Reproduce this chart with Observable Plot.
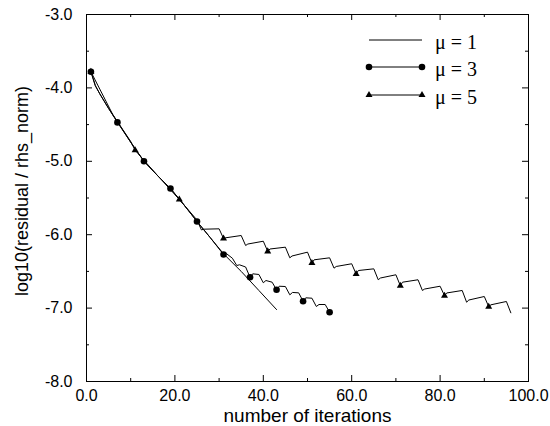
<!DOCTYPE html>
<html><head><meta charset="utf-8">
<script src="https://cdn.jsdelivr.net/npm/d3@7"></script>
<script src="https://cdn.jsdelivr.net/npm/@observablehq/plot@0.6"></script>
<style>
body{margin:0;background:#fff}
#wrap{position:relative;width:550px;height:426px}
#legend{position:absolute;left:0;top:0;pointer-events:none}
</style>
</head><body><div id="wrap"></div>
<script>
// ---- data ----
const mu1Iter = [1,2,3,4,5,7,10,13,16,19,22,25,28,31,35,39,43];
const mu1Val  = [-3.78,-3.97,-4.08,-4.18,-4.28,-4.46,-4.74,-5.00,-5.19,-5.37,-5.59,-5.82,-6.04,-6.26,-6.50,-6.76,-7.02];

const mu3Iter = [1,2,3,4,5,7,10,13,16,19,22,25,28,31,31.6,33,34,34.6,36,37,37.6,39,40,40.6,42,43,43.6,45,46,46.6,48,49,49.6,51,52,52.6,54,55];
const mu3Val  = [-3.78,-3.97,-4.08,-4.18,-4.28,-4.47,-4.74,-5.00,-5.19,-5.37,-5.59,-5.82,-6.04,-6.27,-6.255,-6.32,-6.42,-6.41,-6.44,-6.58,-6.533,-6.542,-6.655,-6.624,-6.647,-6.751,-6.702,-6.706,-6.819,-6.787,-6.792,-6.906,-6.860,-6.865,-6.978,-6.951,-6.951,-7.056];
const mu3Markers = [1,7,13,19,25,31,37,43,49,55];

const mu5Iter = [1,6,10,11,16,21,25,26,26.5,30,31,31.5,35,36,36.5,40,41,41.5,45,46,46.5,50,51,51.5,55,56,56.5,60,61,61.5,65,66,66.5,70,71,71.5,75,76,76.5,80,81,81.5,85,86,86.5,90,91,91.5,95,96];
const mu5Val  = [-3.78,-4.37,-4.73,-4.85,-5.19,-5.52,-5.80,-5.935,-5.925,-5.92,-6.052,-6.042,-6.011,-6.147,-6.127,-6.089,-6.227,-6.195,-6.170,-6.315,-6.290,-6.238,-6.386,-6.342,-6.315,-6.456,-6.433,-6.396,-6.536,-6.488,-6.465,-6.614,-6.590,-6.546,-6.695,-6.647,-6.614,-6.760,-6.740,-6.702,-6.831,-6.794,-6.760,-6.920,-6.890,-6.842,-6.981,-6.955,-6.910,-7.064];
const mu5Markers = [1,11,21,31,41,51,61,71,81,91];

const xMajor = [0,20,40,60,80,100];
const xMinor = [10,30,50,70,90];
const yMajor = [-3,-4,-5,-6,-7,-8];
const yMinor = [-3.5,-4.5,-5.5,-6.5,-7.5];

const legendLabels = ["\u03bc = 1","\u03bc = 3","\u03bc = 5"];
const xLabel = "number of iterations";
const yLabel = "log10(residual / rhs_norm)";

// ---- build ----
const toRows = (xs, ys) => xs.map((x,i) => ({x, y: ys[i]}));
const mu1 = toRows(mu1Iter, mu1Val);
const mu3 = toRows(mu3Iter, mu3Val);
const mu5 = toRows(mu5Iter, mu5Val);

const W = 550, H = 426, mL = 86, mR = 22, mT = 14, mB = 45;
const fw = W - mL - mR, fh = H - mT - mB;
const font = "'Liberation Sans', Arial, Helvetica, sans-serif";

const chart = Plot.plot({
  width: W, height: H,
  marginLeft: mL, marginRight: mR, marginTop: mT, marginBottom: mB,
  style: {fontFamily: font, color: "black", background: "white"},
  x: {domain: [0, 100]},
  y: {domain: [-8, -3]},
  marks: [
    // inward ticks on all four sides
    Plot.tickX(xMajor, {x: d => d, insetTop: fh - 6, stroke: "black"}),
    Plot.tickX(xMinor, {x: d => d, insetTop: fh - 3, stroke: "black"}),
    Plot.tickX(xMajor, {x: d => d, insetBottom: fh - 6, stroke: "black"}),
    Plot.tickX(xMinor, {x: d => d, insetBottom: fh - 3, stroke: "black"}),
    Plot.tickY(yMajor, {y: d => d, insetRight: fw - 6, stroke: "black"}),
    Plot.tickY(yMinor, {y: d => d, insetRight: fw - 3, stroke: "black"}),
    Plot.tickY(yMajor, {y: d => d, insetLeft: fw - 6, stroke: "black"}),
    Plot.tickY(yMinor, {y: d => d, insetLeft: fw - 3, stroke: "black"}),
    Plot.axisX(xMajor, {tickSize: 0, tickPadding: 8, tickFormat: d => d.toFixed(1), fontSize: 16, label: null}),
    Plot.axisY(yMajor, {tickSize: 0, tickPadding: 14, tickFormat: d => d.toFixed(1), fontSize: 16, label: null}),
    Plot.frame({stroke: "black", strokeWidth: 1}),
    Plot.text([xLabel], {text: d => d, frameAnchor: "bottom", lineAnchor: "middle", textAnchor: "middle", dy: 34, fontSize: 19, fill: "black"}),
    Plot.text([yLabel], {text: d => d, frameAnchor: "left", lineAnchor: "middle", textAnchor: "middle", rotate: -90, dx: -64, dy: -7, fontSize: 18, fill: "black"}),
    // series
    Plot.line(mu1, {x: "x", y: "y", stroke: "black", strokeWidth: 1}),
    Plot.line(mu5, {x: "x", y: "y", stroke: "black", strokeWidth: 1}),
    Plot.line(mu3, {x: "x", y: "y", stroke: "black", strokeWidth: 1}),
    Plot.dot(mu5.filter(d => mu5Markers.includes(d.x)), {x: "x", y: "y", symbol: "triangle", r: 2.6, fill: "black", stroke: "none"}),
    Plot.dot(mu3.filter(d => mu3Markers.includes(d.x)), {x: "x", y: "y", r: 3.3, fill: "black", stroke: "none"})
  ]
});

const wrap = document.getElementById("wrap");
wrap.appendChild(chart);

// legend overlay
const svg = d3.select(wrap).append("svg").attr("id", "legend").attr("width", W).attr("height", H);
const legY = [40, 67, 95];
const lx1 = 369, lx2 = 422, tx = 435;
legendLabels.forEach((lab, i) => {
  const g = svg.append("g");
  g.append("line").attr("x1", lx1).attr("x2", lx2).attr("y1", legY[i]).attr("y2", legY[i])
    .attr("stroke", "black").attr("stroke-width", 1);
  if (i === 1) {
    [lx1, lx2].forEach(x => g.append("circle").attr("cx", x).attr("cy", legY[i]).attr("r", 3.3).attr("fill", "black"));
  }
  if (i === 2) {
    const tri = d3.symbol(d3.symbolTriangle, Math.PI * 2.6 * 2.6)();
    [lx1, lx2].forEach(x => g.append("path").attr("d", tri).attr("transform", `translate(${x},${legY[i]})`).attr("fill", "black"));
  }
  g.append("text").attr("x", tx).attr("y", legY[i] + 8.5)
    .attr("font-family", "'Liberation Serif', 'Times New Roman', serif").attr("font-size", 20)
    .attr("fill", "black").text(lab);
});
</script>
</body></html>
